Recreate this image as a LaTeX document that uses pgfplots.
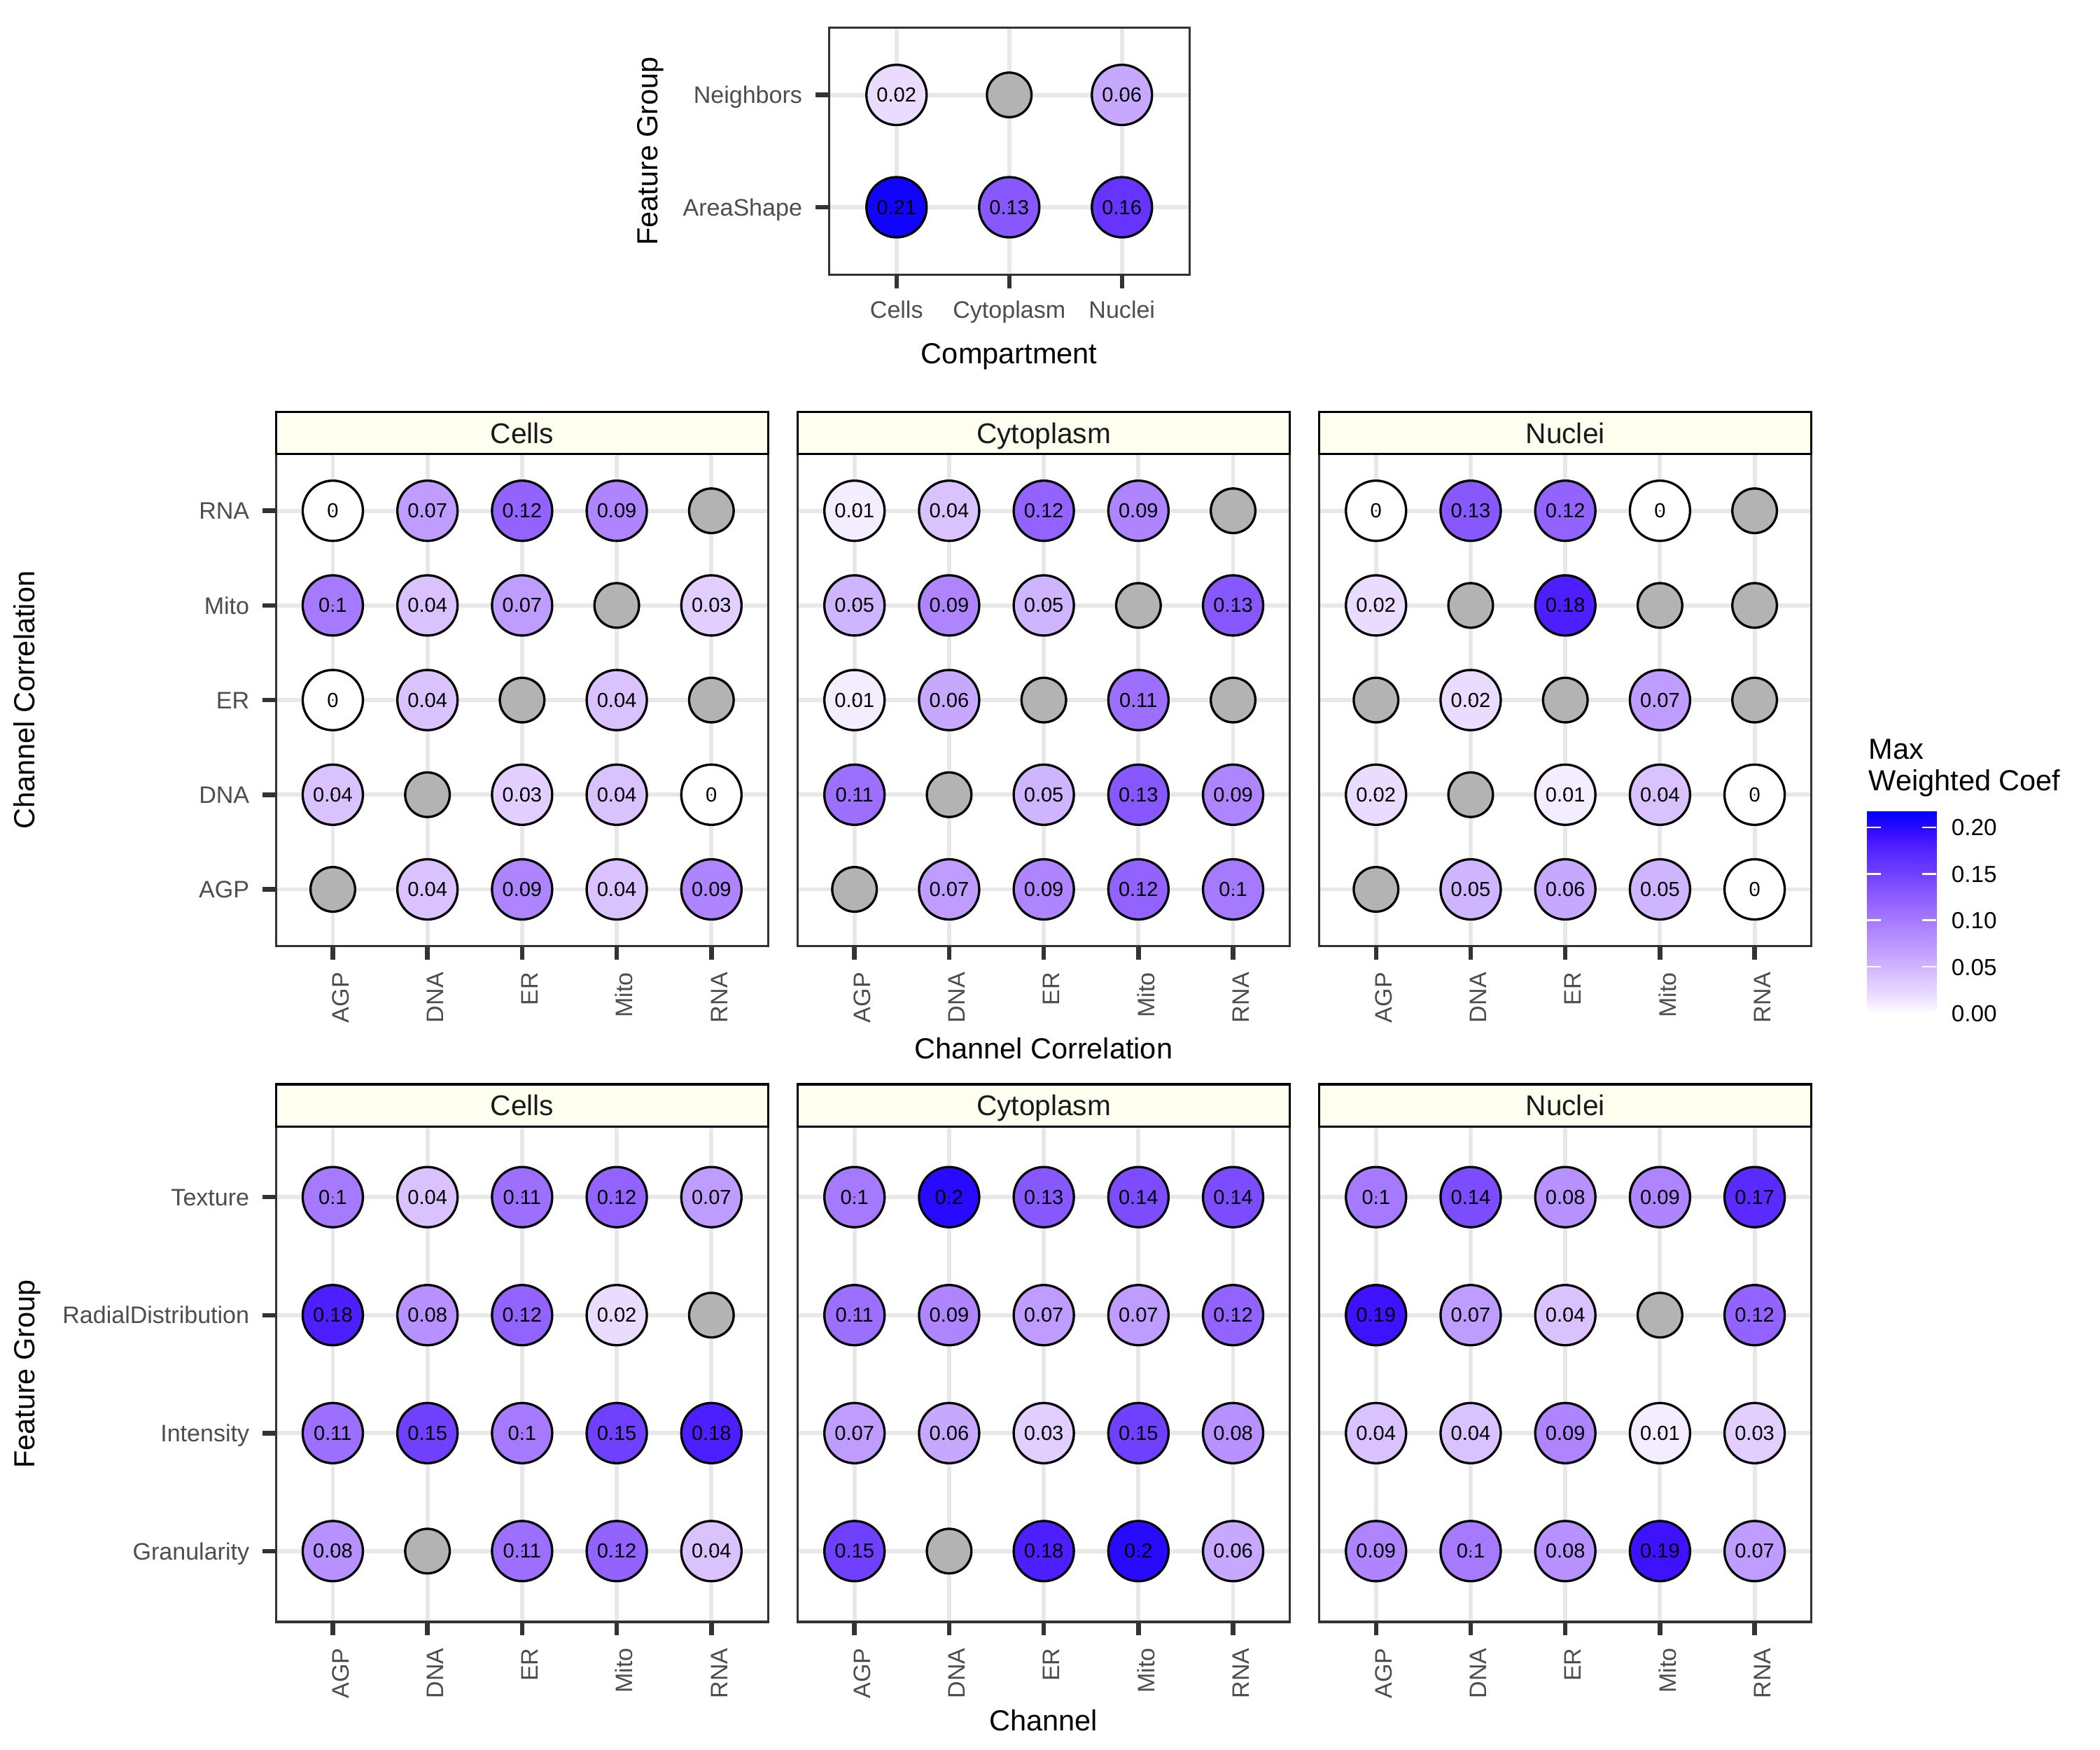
\documentclass[border=0pt]{standalone}
\usepackage{fontspec}
\setmainfont{Liberation Sans}
\usepackage{pgfplots}
\usepackage{pgfplotstable}
\pgfplotsset{compat=1.18}
\definecolor{grey20}{RGB}{51,51,51}
\definecolor{grey30}{RGB}{77,77,77}
\definecolor{grey10}{RGB}{26,26,26}
\definecolor{gridc}{RGB}{232,232,232}
\definecolor{naGray}{RGB}{179,179,179}
\definecolor{stripfill}{RGB}{255,255,240}
\tikzset{facetstrip/.style={draw=black, line width=0.75pt, fill=stripfill, minimum width=169.38pt, minimum height=14.47pt, anchor=south, inner sep=0pt, outer sep=0pt, font=\fontsize{9.8}{10}\selectfont, text=grey10, text height=7.0pt, text depth=0pt}}
\pgfplotsset{
  colormap={wb}{rgb255(0pt)=(255,255,255) rgb255(20pt)=(234,220,255) rgb255(40pt)=(218,194,255) rgb255(50pt)=(207,180,255) rgb255(70pt)=(191,156,255) rgb255(100pt)=(166,122,255) rgb255(130pt)=(136,88,255) rgb255(150pt)=(112,64,255) rgb255(174pt)=(86,38,255) rgb255(191pt)=(60,16,255) rgb255(217pt)=(0,0,255)},
  panel/.style={
    scale only axis, clip=false,
    axis line style={draw=grey20, line width=0.75pt},
    grid=major, major grid style={draw=gridc, line width=1.4pt},
    tick align=outside, xtick pos=left, ytick pos=left,
    major tick length=4.7pt,
    tick style={draw=grey20, line width=1.55pt},
    ticklabel style={font=\fontsize{8.2}{9}\selectfont, text=grey30},
    yticklabel style={anchor=east, inner xsep=4.3pt, inner ysep=0pt, text height=5.87pt, text depth=0pt},
    colormap name=wb, point meta min=0, point meta max=0.217,
  },
  rotx/.style={xticklabel style={xshift=2.55pt, rotate=90, anchor=east, inner xsep=4.15pt, inner ysep=0pt, text height=5.87pt, text depth=0pt}},
  circ/.style={scatter, only marks, mark=*, mark size=10.36pt, point meta=explicit,
    scatter/use mapped color={draw=black, fill=mapped color},
    mark options={line width=0.8pt}},
  labs/.style={only marks, mark=*, mark size=0.01pt, mark options={draw=none, fill=none}, point meta=explicit,
    nodes near coords={\pgfmathprintnumber[fixed,precision=2,assume math mode=true]{\pgfplotspointmeta}},
    every node near coord/.append style={font=\fontsize{7}{8}\selectfont, text=black, anchor=center, inner sep=0pt}},
  nadots/.style={only marks, mark=*, mark size=7.67pt, mark options={draw=black, fill=naGray, line width=0.8pt}},
  mid/.style={panel, rotx, anchor=south west, width=169.38pt, height=169.38pt,
    xmin=0.4, xmax=5.6, ymin=0.4, ymax=5.6, xtick={1,2,3,4,5}, ytick={1,2,3,4,5},
    xticklabels={AGP,DNA,ER,Mito,RNA}},
  bot/.style={panel, rotx, anchor=south west, width=169.38pt, height=170.54pt,
    xmin=0.4, xmax=5.6, ymin=0.4, ymax=4.6, xtick={1,2,3,4,5}, ytick={1,2,3,4},
    xticklabels={AGP,DNA,ER,Mito,RNA}},
  innerpanel/.style={yticklabels={}, major y tick style={draw=none}},
}
% x: 1 AGP, 2 DNA, 3 ER, 4 Mito, 5 RNA (channel) ; top panel x: 1 Cells, 2 Cytoplasm, 3 Nuclei
\pgfplotstableread{
x y v
1 2 0.02
3 2 0.06
1 1 0.21
2 1 0.13
3 1 0.16
}\topT
% Channel correlation, y: 1 AGP .. 5 RNA
\pgfplotstableread{
x y v
1 5 0
2 5 0.07
3 5 0.12
4 5 0.09
1 4 0.1
2 4 0.04
3 4 0.07
5 4 0.03
1 3 0
2 3 0.04
4 3 0.04
1 2 0.04
3 2 0.03
4 2 0.04
5 2 0
2 1 0.04
3 1 0.09
4 1 0.04
5 1 0.09
}\ccCells
\pgfplotstableread{
x y v
1 5 0.01
2 5 0.04
3 5 0.12
4 5 0.09
1 4 0.05
2 4 0.09
3 4 0.05
5 4 0.13
1 3 0.01
2 3 0.06
4 3 0.11
1 2 0.11
3 2 0.05
4 2 0.13
5 2 0.09
2 1 0.07
3 1 0.09
4 1 0.12
5 1 0.1
}\ccCyto
\pgfplotstableread{
x y v
1 5 0
2 5 0.13
3 5 0.12
4 5 0
1 4 0.02
3 4 0.18
2 3 0.02
4 3 0.07
1 2 0.02
3 2 0.01
4 2 0.04
5 2 0
2 1 0.05
3 1 0.06
4 1 0.05
5 1 0
}\ccNuc
% Feature group, y: 1 Granularity, 2 Intensity, 3 RadialDistribution, 4 Texture
\pgfplotstableread{
x y v
1 4 0.1
2 4 0.04
3 4 0.11
4 4 0.12
5 4 0.07
1 3 0.18
2 3 0.08
3 3 0.12
4 3 0.02
1 2 0.11
2 2 0.15
3 2 0.1
4 2 0.15
5 2 0.18
1 1 0.08
3 1 0.11
4 1 0.12
5 1 0.04
}\fgCells
\pgfplotstableread{
x y v
1 4 0.1
2 4 0.2
3 4 0.13
4 4 0.14
5 4 0.14
1 3 0.11
2 3 0.09
3 3 0.07
4 3 0.07
5 3 0.12
1 2 0.07
2 2 0.06
3 2 0.03
4 2 0.15
5 2 0.08
1 1 0.15
3 1 0.18
4 1 0.2
5 1 0.06
}\fgCyto
\pgfplotstableread{
x y v
1 4 0.1
2 4 0.14
3 4 0.08
4 4 0.09
5 4 0.17
1 3 0.19
2 3 0.07
3 3 0.04
5 3 0.12
1 2 0.04
2 2 0.04
3 2 0.09
4 2 0.01
5 2 0.03
1 1 0.09
2 1 0.1
3 1 0.08
4 1 0.19
5 1 0.07
}\fgNuc
\begin{document}
\begin{tikzpicture}
\useasboundingbox (0,0) rectangle (722.7pt,602.25pt);

% ---------- top panel ----------
\begin{axis}[panel, at={(285.26pt,507.73pt)}, anchor=south west, width=124.12pt, height=85.04pt,
  xmin=0.4, xmax=3.6, ymin=0.4, ymax=2.6,
  xtick={1,2,3}, xticklabels={Cells,Cytoplasm,Nuclei},
  ytick={1,2}, yticklabels={AreaShape,Neighbors},
  xticklabel style={anchor=north, inner ysep=4.15pt, text height=5.97pt, text depth=0pt}]
\addplot[circ] table[x=x, y=y, meta=v] {\topT};
\addplot[labs] table[x=x, y=y, meta=v] {\topT};
\addplot[nadots] coordinates {(2,2)};
\end{axis}

% ---------- middle row: Channel Correlation ----------
\begin{axis}[mid, at={(94.99pt,276.63pt)}, yticklabels={AGP,DNA,ER,Mito,RNA}]
\addplot[circ] table[x=x, y=y, meta=v] {\ccCells};
\addplot[labs] table[x=x, y=y, meta=v] {\ccCells};
\addplot[nadots] coordinates {(5,5) (4,4) (3,3) (5,3) (2,2) (1,1)};
\node[facetstrip] at (rel axis cs:0.5,1) {Cells};
\end{axis}

\begin{axis}[mid, innerpanel, at={(274.52pt,276.63pt)}]
\addplot[circ] table[x=x, y=y, meta=v] {\ccCyto};
\addplot[labs] table[x=x, y=y, meta=v] {\ccCyto};
\addplot[nadots] coordinates {(5,5) (4,4) (3,3) (5,3) (2,2) (1,1)};
\node[facetstrip] at (rel axis cs:0.5,1) {Cytoplasm};
\end{axis}

\begin{axis}[mid, innerpanel, at={(454.00pt,276.63pt)}]
\addplot[circ] table[x=x, y=y, meta=v] {\ccNuc};
\addplot[labs] table[x=x, y=y, meta=v] {\ccNuc};
\addplot[nadots] coordinates {(5,5) (2,4) (4,4) (5,4) (1,3) (3,3) (5,3) (2,2) (1,1)};
\node[facetstrip] at (rel axis cs:0.5,1) {Nuclei};
\end{axis}

% ---------- bottom row: Feature Group x Channel ----------
\begin{axis}[bot, at={(94.99pt,44.09pt)}, yticklabels={Granularity,Intensity,RadialDistribution,Texture}]
\addplot[circ] table[x=x, y=y, meta=v] {\fgCells};
\addplot[labs] table[x=x, y=y, meta=v] {\fgCells};
\addplot[nadots] coordinates {(5,3) (2,1)};
\node[facetstrip] at (rel axis cs:0.5,1) {Cells};
\end{axis}

\begin{axis}[bot, innerpanel, at={(274.52pt,44.09pt)}]
\addplot[circ] table[x=x, y=y, meta=v] {\fgCyto};
\addplot[labs] table[x=x, y=y, meta=v] {\fgCyto};
\addplot[nadots] coordinates {(2,1)};
\node[facetstrip] at (rel axis cs:0.5,1) {Cytoplasm};
\end{axis}

\begin{axis}[bot, innerpanel, at={(454.00pt,44.09pt)}]
\addplot[circ] table[x=x, y=y, meta=v] {\fgNuc};
\addplot[labs] table[x=x, y=y, meta=v] {\fgNuc};
\addplot[nadots] coordinates {(4,3)};
\node[facetstrip] at (rel axis cs:0.5,1) {Nuclei};
\end{axis}

% ---------- colour bar (legend) ----------
\begin{axis}[at={(642.51pt,253.54pt)}, anchor=south west, scale only axis,
  width=23.83pt, height=69.41pt,
  xmin=0, xmax=1, ymin=0, ymax=0.217, xtick=\empty,
  ytick={0,0.05,0.1,0.15,0.2}, yticklabels={0.00,0.05,0.10,0.15,0.20},
  axis line style={draw=none}, axis on top,
  tick align=inside, ytick pos=both, yticklabel pos=right,
  major tick length=4.8pt, tick style={draw=white, line width=0.6pt},
  yticklabel style={font=\fontsize{8}{9}\selectfont, text=black, anchor=west, inner xsep=5.07pt, inner ysep=0pt, text height=5.73pt, text depth=0pt},
  colormap name=wb, point meta min=0, point meta max=0.217]
\addplot[patch, patch type=rectangle, shader=interp, point meta=y] coordinates {
 (0,0) (1,0) (1,0.02) (0,0.02)
 (0,0.02) (1,0.02) (1,0.04) (0,0.04)
 (0,0.04) (1,0.04) (1,0.05) (0,0.05)
 (0,0.05) (1,0.05) (1,0.07) (0,0.07)
 (0,0.07) (1,0.07) (1,0.1) (0,0.1)
 (0,0.1) (1,0.1) (1,0.13) (0,0.13)
 (0,0.13) (1,0.13) (1,0.15) (0,0.15)
 (0,0.15) (1,0.15) (1,0.174) (0,0.174)
 (0,0.174) (1,0.174) (1,0.191) (0,0.191)
 (0,0.191) (1,0.191) (1,0.217) (0,0.217)
};
\end{axis}

% ---------- titles ----------
\begin{scope}[every node/.style={font=\fontsize{10}{12}\selectfont, text=black}]
\node[anchor=base] at (347.3pt,476.98pt) {Compartment};
\node[anchor=base] at (359.1pt,237.91pt) {Channel Correlation};
\node[anchor=base] at (359.15pt,6.58pt) {Channel};
\node[rotate=90, anchor=base] at (226.31pt,550.22pt) {Feature Group};
\node[rotate=90, anchor=base] at (11.98pt,361.3pt) {Channel Correlation};
\node[rotate=90, anchor=base] at (11.98pt,129.36pt) {Feature Group};
\node[anchor=base west, inner sep=0pt] at (642.9pt,341.02pt) {Max};
\node[anchor=base west, inner sep=0pt] at (642.9pt,330.18pt) {Weighted Coef};
\end{scope}
\end{tikzpicture}
\end{document}
